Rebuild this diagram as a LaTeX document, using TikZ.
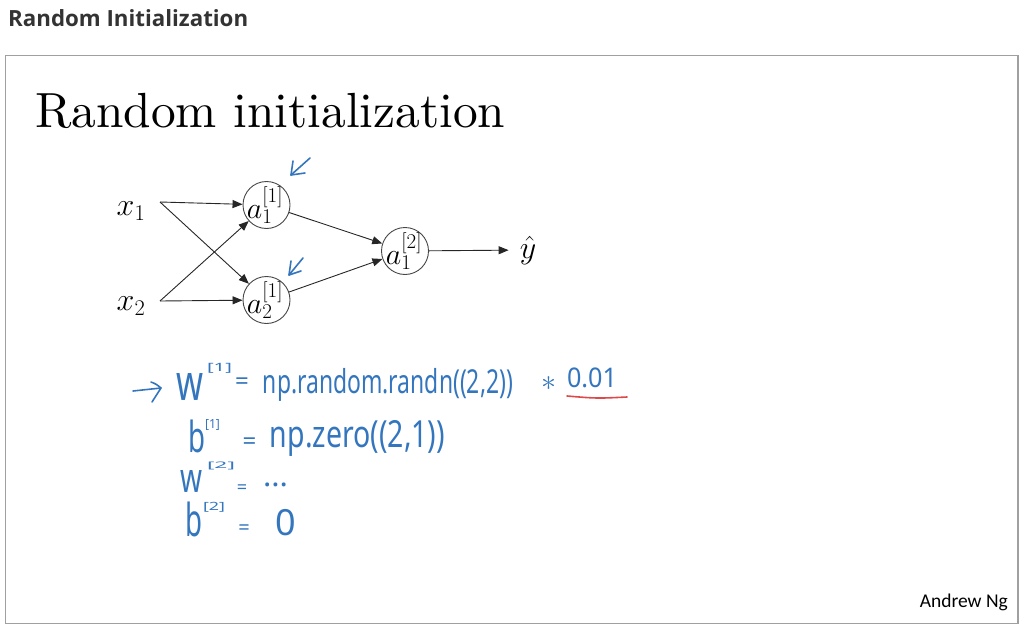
\RequirePackage{fix-cm}
\documentclass[tikz,border=0pt]{standalone}
\usepackage{fontspec}
\usepackage{graphicx}
\usetikzlibrary{arrows.meta}
\newfontfamily\headfont{Open Sans}
\newfontfamily\ngfont{Carlito}
\newfontfamily\handfont{Noto Sans}
\definecolor{hblue}{RGB}{52,118,190}
\definecolor{hred}{RGB}{222,72,72}
\definecolor{framegray}{RGB}{160,160,160}
\definecolor{circgray}{RGB}{70,70,70}
\definecolor{titlegray}{RGB}{51,51,51}
\newcommand{\hwbox}[3]{\resizebox*{#1pt}{#2pt}{#3}}
\newcommand{\neulab}[1]{{\fontsize{30}{34}\selectfont$#1$}}
\begin{document}
\begin{tikzpicture}[x=1pt,y=-1pt,
  neuron/.style={circle,draw=circgray,line width=0.9pt,minimum size=47pt,inner sep=0pt},
  lab/.style={inner sep=0pt},
  conn/.style={-{Triangle[length=10pt,width=8pt]},line width=0.9pt,draw=black!85},
  hand/.style={inner sep=0pt,text=hblue,font=\handfont},
  hline/.style={draw=hblue,line width=1.6pt,line cap=round,line join=round},
  big/.style={font=\fontsize{32}{38}\selectfont}]
\useasboundingbox (0,0) rectangle (1028,634);
% header and frame
\node[anchor=base west,inner sep=0pt,text=titlegray,font=\headfont\bfseries] (title) at (8,27) {\resizebox{240pt}{!}{Random Initialization}};
\draw[framegray,line width=1.2pt] (5.5,55.5) rectangle (1018,623.5);
\node[anchor=base west,inner sep=0pt] (head) at (35,127) {\resizebox{470pt}{!}{Random initialization}};
\node[anchor=base east,inner sep=0pt,font=\ngfont] (ng) at (1008,607) {\resizebox{88pt}{!}{Andrew Ng}};
% network
\node[big] (x1) at (131,211) {$x_1$};
\node[big] (x2) at (131,306) {$x_2$};
\coordinate (x1e) at (160,202);
\coordinate (x2e) at (160,301);
\node[neuron] (a1) at (266.5,205) {};
\node[neuron] (a2) at (266.5,300) {};
\node[neuron] (o) at (405,251) {};
\node[lab] (a1l) at (265,205) {\neulab{a_1^{[1]}}};
\node[lab] (a2l) at (265,300) {\neulab{a_2^{[1]}}};
\node[lab] (ol) at (404,251) {\neulab{a_1^{[2]}}};
\node[big,inner xsep=11pt] (yh) at (528,250) {$\hat{y}$};
\draw[conn] (x1e) -- (a1);
\draw[conn] (x1e) -- (a2);
\draw[conn] (x2e) -- (a1);
\draw[conn] (x2e) -- (a2);
\draw[conn] (a1) -- (o);
\draw[conn] (a2) -- (o);
\draw[conn] (o) -- (yh);
% blue marks
\draw[hline] (310,158) -- (291,175);
\draw[hline] (293,161) -- (291,175) -- (305,173);
\draw[hline] (303,258) -- (289,275);
\draw[hline] (291,261) -- (289,275) -- (301,271);
% handwritten lines
\draw[hline] (133,391) .. controls (147,389) .. (161,388);
\draw[hline] (151,382) .. controls (156,384) .. (161,388) .. controls (157,395) .. (152,402);
\node[hand] (w1) at (189.5,386.5) {\hwbox{27}{27}{w}};
\node[hand] (s1) at (219.5,368) {\hwbox{25}{10}{[1]}};
\node[hand,anchor=base,font=\handfont\fontsize{24}{24}\selectfont] (e1) at (242,389) {=};
\node[hand] (t1) at (388,384.5) {\hwbox{250}{33}{np.random.randn((2,2))}};
\node[hand,font=\fontsize{30}{30}\selectfont] (m1) at (549,384) {$*$};
\node[hand] (n1) at (592,378) {\hwbox{50}{20}{0.01}};
\draw[draw=hred,line width=1.6pt,line cap=round] (567,396) .. controls (597,398.5) .. (627,397);
\node[hand] (b2) at (196.5,436.5) {\hwbox{17}{33}{b}};
\node[hand] (s2) at (212.5,424.5) {\hwbox{15}{11}{[1]}};
\node[hand,anchor=base,font=\handfont\fontsize{24}{24}\selectfont] (e2) at (249.5,449) {=};
\node[hand] (t2) at (357.5,438) {\hwbox{175}{36}{np.zero((2,1))}};
\node[hand] (w3) at (191,481) {\hwbox{22}{22}{w}};
\node[hand] (s3) at (221,466) {\hwbox{28}{8}{[2]}};
\node[hand,anchor=base,font=\handfont\fontsize{18}{18}\selectfont] (e3) at (242,493) {=};
\node[hand] (d3) at (275.5,485) {\hwbox{25}{4}{...}};
\node[hand] (b4) at (194.5,519.5) {\hwbox{17}{35}{b}};
\node[hand] (s4) at (214,507) {\hwbox{22}{10}{[2]}};
\node[hand,anchor=base,font=\handfont\fontsize{20}{20}\selectfont] (e4) at (244,534) {=};
\node[hand,font=\handfont\fontsize{36}{36}\selectfont] (z4) at (286,522.5) {0};
\end{tikzpicture}
\end{document}
